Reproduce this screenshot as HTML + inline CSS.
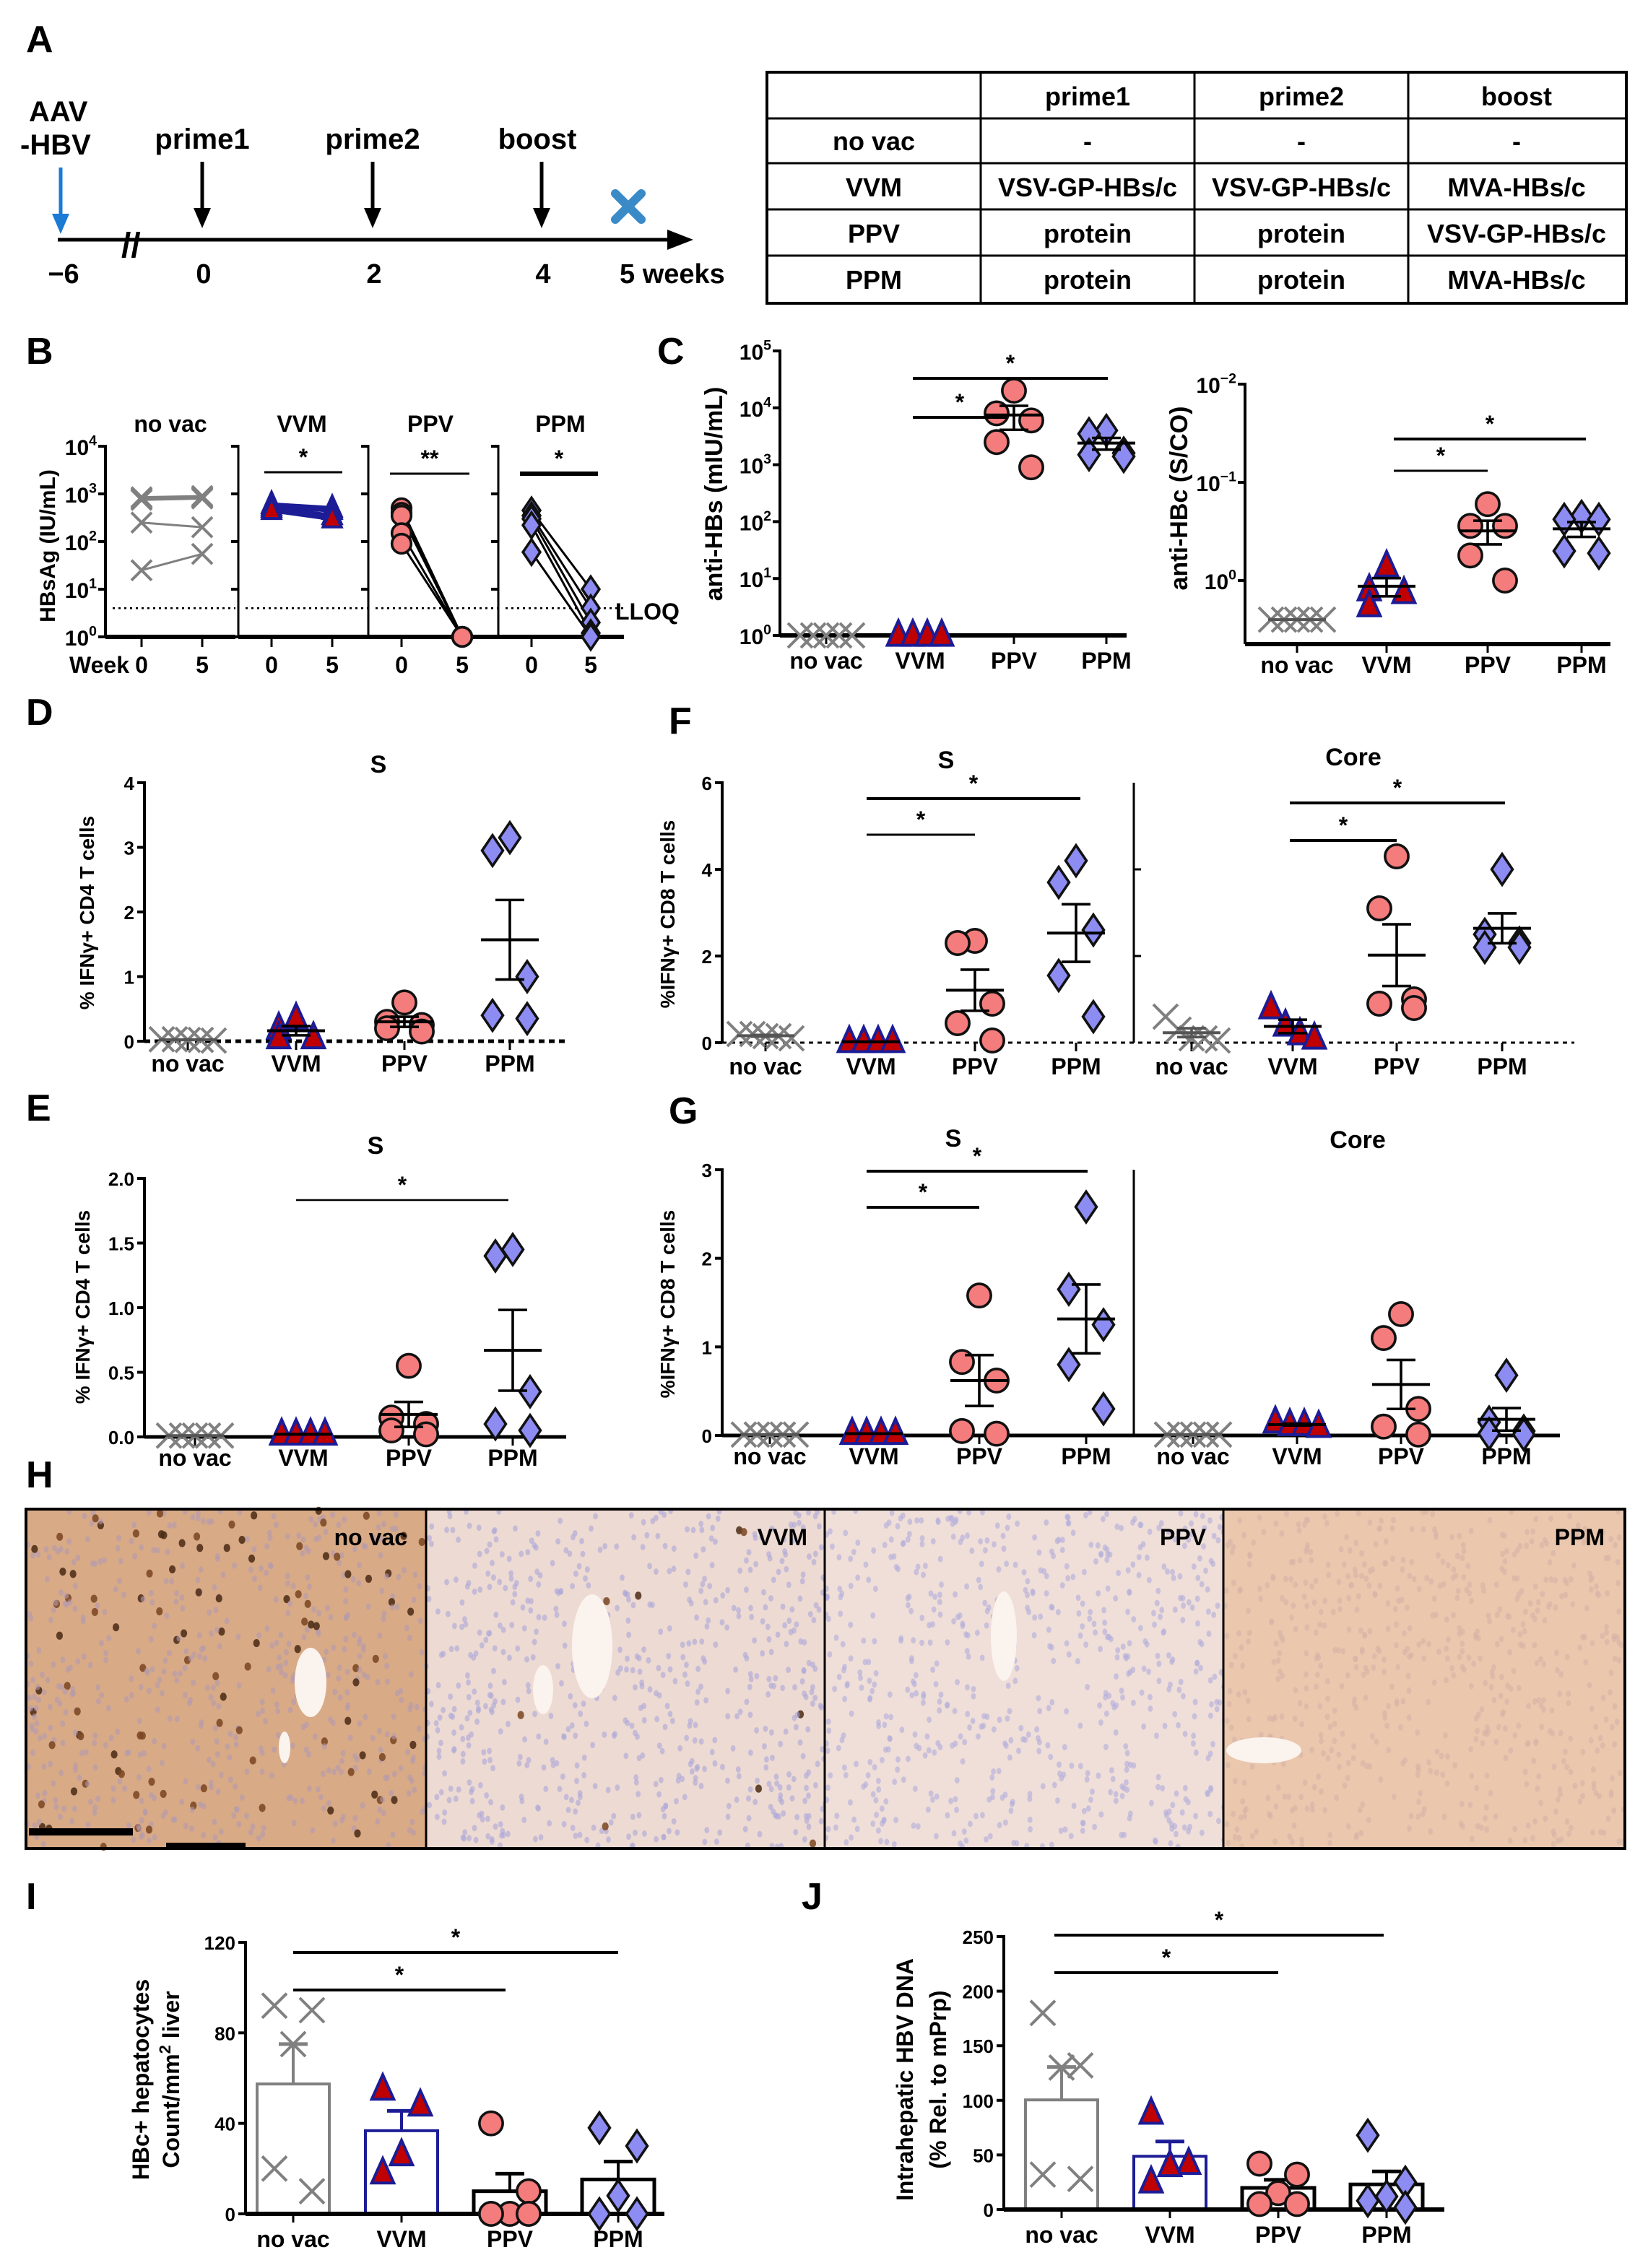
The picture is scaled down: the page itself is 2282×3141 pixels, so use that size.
<!DOCTYPE html>
<html><head><meta charset="utf-8"><style>
html,body{margin:0;padding:0;background:#fff}
svg{display:block}
text{font-family:"Liberation Sans Narrow","Liberation Sans",sans-serif;font-weight:bold;fill:#000}
.t{font-family:"Liberation Sans",sans-serif}
</style></head><body>
<svg id="fig" xmlns="http://www.w3.org/2000/svg" width="2282" height="3141" viewBox="0 0 1141 1570.5">
<rect x="0" y="0" width="1141" height="1570.5" fill="#fff"/>
<g>
<text class="t" x="18" y="36" font-size="26">A</text>
<text class="t" x="20" y="84" font-size="20">AAV</text>
<text class="t" x="14" y="107" font-size="20">-HBV</text>
<line x1="40" y1="166" x2="470" y2="166" stroke="#000" stroke-width="2.5"/>
<polygon points="480,166 462,159 462,173" fill="#000"/>
<text class="t" x="84" y="178" font-size="24" font-weight="normal">//</text>
<line x1="42" y1="116" x2="42" y2="152" stroke="#1a7ad4" stroke-width="2.5"/>
<polygon points="42,162 36,148 48,148" fill="#1a7ad4"/>
<g>
<line x1="140" y1="112" x2="140" y2="146" stroke="#000" stroke-width="2.5"/><polygon points="140,158 134,144 146,144"/>
<line x1="258" y1="112" x2="258" y2="146" stroke="#000" stroke-width="2.5"/><polygon points="258,158 252,144 264,144"/>
<line x1="375" y1="112" x2="375" y2="146" stroke="#000" stroke-width="2.5"/><polygon points="375,158 369,144 381,144"/>
</g>
<text class="t" x="140" y="103" font-size="20" text-anchor="middle">prime1</text>
<text class="t" x="258" y="103" font-size="20" text-anchor="middle">prime2</text>
<text class="t" x="372" y="103" font-size="20" text-anchor="middle">boost</text>
<g stroke="#3a8ac8" stroke-width="6" stroke-linecap="round">
<line x1="426" y1="134" x2="444" y2="152"/><line x1="444" y1="134" x2="426" y2="152"/></g>
<g font-size="19" class="t">
<text class="t" x="44" y="196" text-anchor="middle">−6</text>
<text class="t" x="141" y="196" text-anchor="middle">0</text>
<text class="t" x="259" y="196" text-anchor="middle">2</text>
<text class="t" x="376" y="196" text-anchor="middle">4</text>
<text class="t" x="429" y="196">5 weeks</text></g>
<g font-size="18">
<rect x="531" y="50" width="595" height="160" fill="none" stroke="#000" stroke-width="2"/>
<line x1="679" y1="50" x2="679" y2="210" stroke="#000" stroke-width="1.5"/>
<line x1="827" y1="50" x2="827" y2="210" stroke="#000" stroke-width="1.5"/>
<line x1="975" y1="50" x2="975" y2="210" stroke="#000" stroke-width="1.5"/>
<line x1="531" y1="82" x2="1126" y2="82" stroke="#000" stroke-width="1.5"/>
<line x1="531" y1="113" x2="1126" y2="113" stroke="#000" stroke-width="1.5"/>
<line x1="531" y1="145" x2="1126" y2="145" stroke="#000" stroke-width="1.5"/>
<line x1="531" y1="177" x2="1126" y2="177" stroke="#000" stroke-width="1.5"/>
<text class="t" x="753" y="73" text-anchor="middle">prime1</text><text class="t" x="901" y="73" text-anchor="middle">prime2</text><text class="t" x="1050" y="73" text-anchor="middle">boost</text>
<text class="t" x="605" y="104" text-anchor="middle">no vac</text><text class="t" x="753" y="104" text-anchor="middle">-</text><text class="t" x="901" y="104" text-anchor="middle">-</text><text class="t" x="1050" y="104" text-anchor="middle">-</text>
<text class="t" x="605" y="136" text-anchor="middle">VVM</text><text class="t" x="753" y="136" text-anchor="middle">VSV-GP-HBs/c</text><text class="t" x="901" y="136" text-anchor="middle">VSV-GP-HBs/c</text><text class="t" x="1050" y="136" text-anchor="middle">MVA-HBs/c</text>
<text class="t" x="605" y="168" text-anchor="middle">PPV</text><text class="t" x="753" y="168" text-anchor="middle">protein</text><text class="t" x="901" y="168" text-anchor="middle">protein</text><text class="t" x="1050" y="168" text-anchor="middle">VSV-GP-HBs/c</text>
<text class="t" x="605" y="200" text-anchor="middle">PPM</text><text class="t" x="753" y="200" text-anchor="middle">protein</text><text class="t" x="901" y="200" text-anchor="middle">protein</text><text class="t" x="1050" y="200" text-anchor="middle">MVA-HBs/c</text>
</g>
</g>
<g id="histo"></g>
<g id="plots"></g>
</svg>
<script>
const groups = ["no vac","VVM","PPV","PPM"];
const bNovac0=[850,800,750,250,25], bNovac5=[900,850,800,200,55];
const bVVM0=[600,550,500,450], bVVM5=[500,450,350,300];
const bPPV0=[500,400,350,150,90], bPPV5=[1,1,1,1,1];
const bPPM0=[450,350,300,220,60], bPPM5=[10,4,2,1.2,1];
const cNovac=[1,1,1,1,1], cVVM=[1,1,1,1], cPPV=[20000,8000,6000,2500,900], cPPM=[4000,3500,1600,1500,1400];
const hcNovac=[0.4,0.4,0.4,0.4,0.4], hcVVM=[1.4,0.8,0.75,0.55], hcPPV=[6,3.6,3.6,1.8,1.0], hcPPM=[4.5,4.2,4.2,2,1.9];
const dNovac=[0.03,0.03,0.02,0.02,0.01], dVVM=[0.35,0.2,0.05,0.05], dPPV=[0.6,0.3,0.25,0.2,0.15], dPPM=[3.15,2.95,1.0,0.4,0.35];
const fSNovac=[0.2,0.2,0.15,0.15,0.1], fSVVM=[0.02,0.02,0.02,0.02], fSPPV=[2.35,2.3,0.9,0.45,0.05], fSPPM=[4.2,3.7,2.6,1.55,0.6];
const fCNovac=[0.6,0.3,0.1,0.1,0.05], fCVVM=[0.8,0.4,0.2,0.1], fCPPV=[4.3,3.1,1.0,0.9,0.8], fCPPM=[4.0,2.5,2.3,2.2,2.2];
const eNovac=[0.01,0.01,0.01,0.01,0.01], eVVM=[0.02,0.02,0.02,0.02], ePPV=[0.55,0.15,0.1,0.05,0.02], ePPM=[1.45,1.4,0.35,0.1,0.05];
const gSNovac=[0.01,0.01,0.01,0.01,0.01], gSVVM=[0.02,0.02,0.02,0.02], gSPPV=[1.58,0.83,0.62,0.05,0.02], gSPPM=[2.58,1.65,1.25,0.8,0.3];
const gCNovac=[0.01,0.01,0.01,0.01,0.01], gCVVM=[0.15,0.12,0.12,0.1], gCPPV=[1.37,1.1,0.3,0.1,0.01], gCPPM=[0.68,0.15,0.05,0.02,0.01];
const iNovac=[92,90,75,20,10], iVVM=[55,48,26,18], iPPV=[40,10,0,0,0], iPPM=[38,30,8,0,0];
const jNovac=[180,132,130,32,28], jVVM=[88,42,40,25], jPPV=[42,32,15,5,5], jPPM=[68,25,12,8,2];

const NS="http://www.w3.org/2000/svg";
const root=document.getElementById('plots');
function el(tag,attrs,parent){const e=document.createElementNS(NS,tag);for(const k in attrs)e.setAttribute(k,attrs[k]);(parent||root).appendChild(e);return e;}
function txt(s,attrs,parent){const e=el('text',attrs,parent);e.textContent=s;return e;}
const STY={
 nova:{type:'x',stroke:'#808080',fill:'none',line:'#808080'},
 vvm:{type:'tri',stroke:'#1c1c96',fill:'#c00000',line:'#1c1c96'},
 ppv:{type:'circ',stroke:'#111',fill:'#f47c7c',line:'#000'},
 ppm:{type:'dia',stroke:'#111',fill:'#8c8cf2',line:'#000'}
};
const KEYS=['nova','vvm','ppv','ppm'];
function sym(g,k,cx,cy,r){
 const s=STY[k];let e;
 if(s.type==='x'){e=el('path',{d:`M${cx-r},${cy-r}L${cx+r},${cy+r}M${cx+r},${cy-r}L${cx-r},${cy+r}`,stroke:s.stroke,'stroke-width':2,fill:'none'},g);}
 else if(s.type==='tri'){e=el('polygon',{points:`${cx},${cy-r*1.2} ${cx+r*0.9},${cy+r*0.8} ${cx-r*0.9},${cy+r*0.8}`,fill:s.fill,stroke:s.stroke,'stroke-width':2},g);}
 else if(s.type==='circ'){e=el('circle',{cx,cy,r:r*0.95,fill:s.fill,stroke:s.stroke,'stroke-width':1.8},g);}
 else {e=el('polygon',{points:`${cx},${cy-r*1.25} ${cx+r*0.85},${cy} ${cx},${cy+r*1.25} ${cx-r*0.85},${cy}`,fill:s.fill,stroke:s.stroke,'stroke-width':1.8},g);}
 
 
 return e;
}
function mean(a){return a.reduce((p,c)=>p+c,0)/a.length;}
function sem(a){const m=mean(a);const v=a.reduce((p,c)=>p+(c-m)*(c-m),0)/(a.length-1);return Math.sqrt(v/a.length);}
function scale(c){
 return v=>{ if(c.log){const lv=Math.log10(Math.max(v,1e-9));return c.yBot-(lv-Math.log10(c.min))/(Math.log10(c.max)-Math.log10(c.min))*(c.yBot-c.yTop);}
  return c.yBot-(v-c.min)/(c.max-c.min)*(c.yBot-c.yTop);};
}
function logLabel(g,x,y,exp,fs){const t=el('text',{x,y,'text-anchor':'end','font-size':fs},g);t.appendChild(document.createTextNode('10'));const sp=el('tspan',{dy:-fs*0.45,'font-size':fs*0.65},t);sp.textContent=exp;return t;}
function yAxis(g,c,y){
 el('line',{x1:c.x,y1:c.yTop-1,x2:c.x,y2:c.yBot,stroke:'#000','stroke-width':c.aw||2},g);
 c.ticks.forEach((v,i)=>{const yy=y(v);el('line',{x1:c.x-5,y1:yy,x2:c.x,y2:yy,stroke:'#000','stroke-width':2},g);
  if(c.labels){ if(c.log) logLabel(g,c.x-6,yy+6,c.labels[i],c.fs||16); else txt(c.labels[i],{x:c.x-7,y:yy+5,'text-anchor':'end','font-size':c.fs||13},g);} });
}
function xAxis(g,c,cats,names,yl){
 el('line',{x1:c.x,y1:c.yBot,x2:c.xEnd,y2:c.yBot,stroke:'#000','stroke-width':c.xw||2.5,'stroke-dasharray':c.dash||'none'},g);
 cats.forEach((cx,i)=>{el('line',{x1:cx,y1:c.yBot,x2:cx,y2:c.yBot+6,stroke:'#000','stroke-width':1.5},g);
  if(names) txt(names[i],{x:cx,y:yl,'text-anchor':'middle','font-size':c.cfs||16},g);});
}
const OFF=[[0],[-7,7],[-10,0,10],[-15,-5,5,15],[-18,-9,0,9,18]];
function scatter(g,k,cx,vals,y,r,opts){
 const n=vals.length;
 vals.forEach((v,i)=>{
   let dx;
   if(opts&&opts.spread){dx=OFF[n-1][i];}
   else {dx=[0,-12,12,-12,12][i%5];}
   sym(g,k,cx+dx,y(v),r);
 });
 if(opts&&opts.noMean) return;
 const m=mean(vals),s=sem(vals);
 const lc=STY[k].line==='#808080'?'#555':'#000';
 const mw=20;
 const ml=el('line',{x1:cx-mw,y1:y(m),x2:cx+mw,y2:y(m),stroke:lc,'stroke-width':2},g);
 
 
 el('line',{x1:cx,y1:y(m+s),x2:cx,y2:y(Math.max(m-s,opts&&opts.log?1e-9:-1e9)),stroke:lc,'stroke-width':1.8},g);
 el('line',{x1:cx-10,y1:y(m+s),x2:cx+10,y2:y(m+s),stroke:lc,'stroke-width':1.8},g);
 el('line',{x1:cx-10,y1:y(m-s),x2:cx+10,y2:y(m-s),stroke:lc,'stroke-width':1.8},g);
}
function sig(g,x1,x2,yy,star,w){
 el('line',{x1,y1:yy,x2,y2:yy,stroke:'#000','stroke-width':w||2},g);
 txt(star,{x:(x1+x2)/2,y:yy-5,'text-anchor':'middle','font-size':16},g);
}
function label(s,x,y){const t=txt(s,{x,y,'font-size':26,class:'t'});}
function ylabel(g,s,x,cy,fs){const t=txt(s,{x,y:cy,'text-anchor':'middle','font-size':fs||15,class:'t',transform:`rotate(-90 ${x} ${cy})`},g);return t;}

label('B',18,252);
const gB=el('g',{});
const cB={yTop:309,yBot:441,min:1,max:10000,log:true,ticks:[1,10,100,1000,10000],labels:['0','1','2','3','4'],fs:15};
const yB=scale(cB);
const bSets=[[bNovac0,bNovac5],[bVVM0,bVVM5],[bPPV0,bPPV5],[bPPM0,bPPM5]];
const bAx=[73,165,255,345], bEnd=[163,255,345,432];
const bW0=[98,188,278,368], bW5=[140,230,320,409];
const bTitleX=[118,209,298,388];
bSets.forEach((pair,gi)=>{
 const k=KEYS[gi];
 const sg=el('g',{},gB);
 
 
 const c=Object.assign({},cB,{x:bAx[gi],xEnd:bEnd[gi]});
 if(gi>0){c.labels=null;c.aw=1.5;}
 yAxis(sg,c,yB);
 el('line',{x1:bAx[gi],y1:441,x2:bEnd[gi],y2:441,stroke:'#000','stroke-width':3},sg);
 [bW0[gi],bW5[gi]].forEach((x,j)=>{el('line',{x1:x,y1:441,x2:x,y2:448,stroke:'#000','stroke-width':1.5},sg);txt(j?'5':'0',{x,y:466,'text-anchor':'middle','font-size':16},sg);});
 el('line',{x1:bAx[gi]+5,y1:yB(4),x2:bEnd[gi],y2:yB(4),stroke:'#000','stroke-width':1.3,'stroke-dasharray':'1.5,2.5'},sg);
 pair[0].forEach((v,i)=>{el('line',{x1:bW0[gi],y1:yB(v),x2:bW5[gi],y2:yB(pair[1][i]),stroke:STY[k].line,'stroke-width':gi===1?3:1.5},sg);});
 pair[0].forEach(v=>sym(sg,k,bW0[gi],yB(v),7));
 pair[1].forEach(v=>sym(sg,k,bW5[gi],yB(v),7));
 txt(groups[gi],{x:bTitleX[gi],y:299,'text-anchor':'middle','font-size':16},sg);
});
sig(gB,183,237,327,'*',1.5);sig(gB,270,325,328,'**',1.5);sig(gB,360,414,328,'*',3);
txt('Week',{x:48,y:466,'font-size':16},gB);
txt('LLOQ',{x:426,y:429,'font-size':16},gB);
ylabel(gB,'HBsAg (IU/mL)',38,378,15);

label('C',455,252);
const gC=el('g',{});
const cC={x:540,xEnd:780,yTop:243,yBot:440,min:1,max:100000,log:true,ticks:[1,10,100,1000,10000,100000],labels:['0','1','2','3','4','5'],fs:15};
const yC=scale(cC);yAxis(gC,cC,yC);
const catC=[572,637,702,766];
xAxis(gC,Object.assign({},cC,{xw:3}),catC,groups,463);
[cNovac,cVVM,cPPV,cPPM].forEach((d,i)=>scatter(gC,KEYS[i],catC[i],d,yC,8.5,{spread:i<2,noMean:i<2,log:true}));
sig(gC,632,767,262,'*');sig(gC,632,697,289,'*');
ylabel(gC,'anti-HBs (mIU/mL)',500,342,17);

const gC2=el('g',{});
const cC2={x:862,xEnd:1115,yTop:266,yBot:446,min:Math.pow(10,-0.647),max:100,log:true,ticks:[1,10,100],labels:['0','−1','−2'],fs:15};
const yC2=scale(cC2);yAxis(gC2,cC2,yC2);
const catC2=[898,960,1030,1095];
xAxis(gC2,Object.assign({},cC2,{xw:3}),catC2,groups,466);
[hcNovac,hcVVM,hcPPV,hcPPM].forEach((d,i)=>scatter(gC2,KEYS[i],catC2[i],d,yC2,8.5,{spread:i===0,log:true}));
sig(gC2,965,1098,304,'*');sig(gC2,965,1030,326,'*',1.5);
ylabel(gC2,'anti-HBc (S/CO)',822,345,17);

label('D',18,502);
const gD=el('g',{});
const cD={x:100,xEnd:392,yTop:542,yBot:721,min:0,max:4,ticks:[0,1,2,3,4],labels:['0','1','2','3','4'],dash:'4,3'};
const yD=scale(cD);yAxis(gD,cD,yD);const catD=[130,205,280,353];
xAxis(gD,cD,catD,groups,742);
[dNovac,dVVM,dPPV,dPPM].forEach((d,i)=>scatter(gD,KEYS[i],catD[i],d,yD,8.5,{spread:i===0}));
txt('S',{x:262,y:535,'text-anchor':'middle','font-size':17},gD);
ylabel(gD,'% IFNγ+ CD4 T cells',65,632,14);

label('F',463,508);
const gF=el('g',{});
const cF={x:500,xEnd:1090,yTop:542,yBot:722,min:0,max:6,ticks:[0,2,4,6],labels:['0','2','4','6'],dash:'3,3',xw:1.5};
const yF=scale(cF);yAxis(gF,cF,yF);
const catFS=[530,603,675,745], catFC=[825,895,967,1040];
xAxis(gF,cF,catFS,groups,744);
catFC.forEach((cx,i)=>{el('line',{x1:cx,y1:722,x2:cx,y2:728,stroke:'#000','stroke-width':1.5},gF);txt(groups[i],{x:cx,y:744,'text-anchor':'middle','font-size':16},gF);});
el('line',{x1:785,y1:542,x2:785,y2:722,stroke:'#000','stroke-width':1.5},gF);
[2,4].forEach(v=>el('line',{x1:785,y1:yF(v),x2:790,y2:yF(v),stroke:'#000','stroke-width':1.5},gF));
[fSNovac,fSVVM,fSPPV,fSPPM].forEach((d,i)=>scatter(gF,KEYS[i],catFS[i],d,yF,8.5,{spread:i<2}));
[fCNovac,fCVVM,fCPPV,fCPPM].forEach((d,i)=>scatter(gF,KEYS[i],catFC[i],d,yF,8.5,{spread:i<2}));
sig(gF,600,748,553,'*');sig(gF,600,675,578,'*',1.5);
sig(gF,893,1042,556,'*');sig(gF,893,967,582,'*');
txt('S',{x:655,y:532,'text-anchor':'middle','font-size':17},gF);
txt('Core',{x:937,y:530,'text-anchor':'middle','font-size':17},gF);
ylabel(gF,'%IFNγ+ CD8 T cells',467,633,14);

label('E',18,776);
const gE=el('g',{});
const cE={x:100,xEnd:392,yTop:816,yBot:995,min:0,max:2,ticks:[0,0.5,1,1.5,2],labels:['0.0','0.5','1.0','1.5','2.0']};
const yE=scale(cE);yAxis(gE,cE,yE);const catE=[135,210,283,355];
xAxis(gE,cE,catE,groups,1015);
[eNovac,eVVM,ePPV,ePPM].forEach((d,i)=>scatter(gE,KEYS[i],catE[i],d,yE,8.5,{spread:i<2}));
sig(gE,205,352,831,'*',1.2);
txt('S',{x:260,y:799,'text-anchor':'middle','font-size':17},gE);
ylabel(gE,'% IFNγ+ CD4 T cells',62,905,14);

label('G',463,778);
const gG=el('g',{});
const cG={x:500,xEnd:1080,yTop:810,yBot:994,min:0,max:3,ticks:[0,1,2,3],labels:['0','1','2','3'],xw:2.5};
const yG=scale(cG);yAxis(gG,cG,yG);
const catGS=[533,605,678,752], catGC=[826,898,970,1043];
xAxis(gG,cG,catGS,groups,1014);
catGC.forEach((cx,i)=>{el('line',{x1:cx,y1:994,x2:cx,y2:1000,stroke:'#000','stroke-width':1.5},gG);txt(groups[i],{x:cx,y:1014,'text-anchor':'middle','font-size':16},gG);});
el('line',{x1:785,y1:810,x2:785,y2:994,stroke:'#000','stroke-width':1.5},gG);
[gSNovac,gSVVM,gSPPV,gSPPM].forEach((d,i)=>scatter(gG,KEYS[i],catGS[i],d,yG,8.5,{spread:i<2}));
[gCNovac,gCVVM,gCPPV,gCPPM].forEach((d,i)=>scatter(gG,KEYS[i],catGC[i],d,yG,8.5,{spread:i<2}));
sig(gG,600,753,811,'*');sig(gG,600,678,836,'*');
txt('S',{x:660,y:794,'text-anchor':'middle','font-size':17},gG);
txt('Core',{x:940,y:795,'text-anchor':'middle','font-size':17},gG);
ylabel(gG,'%IFNγ+ CD8 T cells',467,903,14);

function barPanel(g,c,cats,sets,yl){
 const y=scale(c);
 sets.forEach((d,i)=>{
  const k=KEYS[i];const m=mean(d),s=sem(d);
  const bc=i===0?'#808080':(i===1?'#1c1c96':'#000');
  const r=el('rect',{x:cats[i]-25,y:y(m),width:50,height:c.yBot-y(m),fill:'#fff',stroke:bc,'stroke-width':i>1?2.5:2},g);
  
  
  el('line',{x1:cats[i],y1:y(m),x2:cats[i],y2:y(m+s),stroke:bc,'stroke-width':2},g);
  el('line',{x1:cats[i]-10,y1:y(m+s),x2:cats[i]+10,y2:y(m+s),stroke:bc,'stroke-width':2.5},g);
 });
 yAxis(g,c,y);xAxis(g,Object.assign({},c,{xw:3}),cats,groups,yl);
 sets.forEach((d,i)=>{d.forEach((v,j)=>sym(g,KEYS[i],cats[i]+[-13,13,0,-13,13][j%5],y(v),8.5));});
 return y;
}
label('I',18,1322);
const gI=el('g',{});
const cI={x:170,xEnd:460,yTop:1345,yBot:1533,min:0,max:120,ticks:[0,40,80,120],labels:['0','40','80','120']};
barPanel(gI,cI,[203,278,353,428],[iNovac,iVVM,iPPV,iPPM],1556);
sig(gI,203,428,1352,'*');sig(gI,203,350,1378,'*');
ylabel(gI,'HBc+ hepatocytes',103,1440,16);
{const t=ylabel(gI,'',124,1440,16);t.appendChild(document.createTextNode('Count/mm'));const sp=el('tspan',{dy:-6,'font-size':11},t);sp.textContent='2';const sp2=el('tspan',{dy:6},t);sp2.textContent=' liver';}

label('J',555,1322);
const gJ=el('g',{});
const cJ={x:695,xEnd:1000,yTop:1341,yBot:1530,min:0,max:250,ticks:[0,50,100,150,200,250],labels:['0','50','100','150','200','250']};
barPanel(gJ,cJ,[735,810,885,960],[jNovac,jVVM,jPPV,jPPM],1553);
sig(gJ,730,958,1340,'*');sig(gJ,730,885,1366,'*');
ylabel(gJ,'Intrahepatic HBV DNA',632,1440,16);
ylabel(gJ,'(% Rel. to mPrp)',655,1440,16);

// Panel H histology (decorative texture)
label('H',18,1030);
const H=document.getElementById('histo');
const hp=[{x:18,bg:'#d8aa86',nuc:'#b29ab0',pos:0.18,name:'no vac'},{x:295,bg:'#eddad2',nuc:'#aba6d8',pos:0.015,name:'VVM'},{x:571,bg:'#efdfd8',nuc:'#b0abdc',pos:0.0,name:'PPV'},{x:847,bg:'#eac7ad',nuc:'#d6b2a6',pos:0.0,name:'PPM'}];
let seed=12345;function rnd(){seed=(seed*1103515245+12345)%2147483648;return seed/2147483648;}
hp.forEach((p,i)=>{
 const g=el('g',{},H);
 
 
 el('rect',{x:p.x,y:1045,width:277,height:235,fill:p.bg},g);
 for(let n=0;n<650;n++){const cx=p.x+rnd()*277,cy=1046+rnd()*233;const br=rnd()<p.pos;
  el('ellipse',{cx,cy,rx:br?2.3:1.7,ry:br?2.8:2.2,fill:br?(rnd()<0.5?'#4a2a14':'#7a4520'):p.nuc,opacity:br?0.85:0.6},g);}
 txt(p.name,{x:p.x+264,y:1070,'text-anchor':'end','font-size':16},g);
});
[[215,1165,11,24],[197,1210,4,11],[410,1140,14,36],[376,1170,7,17],[695,1133,9,31],[875,1212,26,9]].forEach(v=>{el('ellipse',{cx:v[0],cy:v[1],rx:v[2],ry:v[3],fill:'#fbf3ee'},H);});
el('rect',{x:18,y:1045,width:1107,height:235,fill:'none',stroke:'#000','stroke-width':2},H);
[295,571,847].forEach(x=>el('line',{x1:x,y1:1045,x2:x,y2:1280,stroke:'#000','stroke-width':1.5},H));
{const s1=el('rect',{x:20,y:1266,width:72,height:5,fill:'#000'},H);}
el('rect',{x:115,y:1276,width:55,height:4,fill:'#000'},H);
</script>
</body></html>
